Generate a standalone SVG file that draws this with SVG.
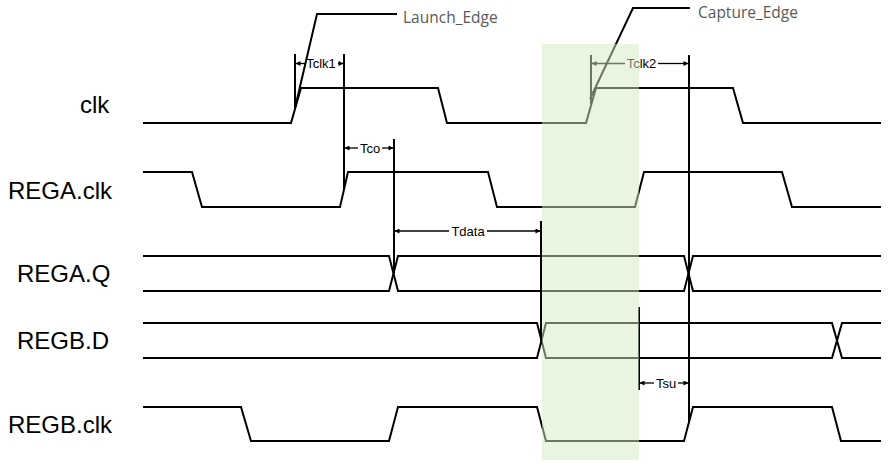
<svg xmlns="http://www.w3.org/2000/svg" width="893" height="463" viewBox="0 0 893 463">
<style>
.bg{fill:#ffffff}
.wave{fill:none;stroke:#000;stroke-width:2;stroke-linejoin:miter}
.mark{fill:none;stroke:#000;stroke-width:2}
.dim{fill:none;stroke:#000;stroke-width:1.3}
.lbl{font-family:"Liberation Sans",Arial,sans-serif;font-size:24px;fill:#000}
.dl{font-family:"Liberation Sans",Arial,sans-serif;font-size:13px;fill:#000;text-anchor:middle}
.call{font-family:"Open Sans","Noto Sans",sans-serif;font-size:15.5px;fill:#595959}
.win{fill:#d6ecc4;fill-opacity:0.5;stroke:none}
</style>
<defs>
<marker id="ah" viewBox="0 0 6 6" refX="6" refY="3" markerWidth="6" markerHeight="5" markerUnits="userSpaceOnUse" orient="auto">
<path d="M0,0 L6,3 L0,6 z" fill="#000"/>
</marker>
</defs>
<rect class="bg" x="0" y="0" width="893" height="463"/>

<g id="clk">
<text class="lbl" x="80" y="113">clk</text>
<path class="wave" d="M143,123 H291 L301,88 H438 L447,123 H586 L596,88 H733 L743,123 H881"/>
</g>
<g id="REGA_clk">
<text class="lbl" x="8" y="199">REGA.clk</text>
<path class="wave" d="M143,172 H192 L202,207 H340 L348,172 H488 L497,207 H635 L644,172 H782 L792,207 H881"/>
</g>
<g id="REGA_Q">
<text class="lbl" x="17" y="282">REGA.Q</text>
<path class="wave" d="M143,256 H389 L398,291 H684 L693,256 H881"/>
<path class="wave" d="M143,291 H389 L398,256 H684 L693,291 H881"/>
</g>
<g id="REGB_D">
<text class="lbl" x="17" y="349">REGB.D</text>
<path class="wave" d="M143,323 H537 L546,358 H832 L842,323 H881"/>
<path class="wave" d="M143,358 H537 L546,323 H832 L842,358 H881"/>
</g>
<g id="REGB_clk">
<text class="lbl" x="8" y="433">REGB.clk</text>
<path class="wave" d="M143,407 H241 L251,441 H389 L398,407 H537 L546,441 H684 L693,407 H832 L841,441 H881"/>
</g>

<g id="connectors">
<path class="mark" d="M295,54 V108"/>
<path class="mark" d="M344,54 V190"/>
<path class="mark" d="M394,139 V273"/>
<path class="mark" d="M541,221 V340"/>
<path class="mark" d="M591,55 V104"/>
<path class="mark" d="M689,55 V423"/>
<path class="mark" d="M639,307 V390"/>

<path class="mark" d="M295,108 L317,14 H397"/>
<path class="mark" d="M590,99 L633,8 H690"/>

<path class="dim" d="M305,63.5 H295.5" marker-end="url(#ah)"/>
<path class="dim" d="M338,63.5 H343.5" marker-end="url(#ah)"/>
<path class="dim" d="M358,148 H344.5" marker-end="url(#ah)"/>
<path class="dim" d="M382,148 H393.5" marker-end="url(#ah)"/>
<path class="dim" d="M449,231 H394.5" marker-end="url(#ah)"/>
<path class="dim" d="M487,231 H540.5" marker-end="url(#ah)"/>
<path class="dim" d="M625,63.5 H591.5" marker-end="url(#ah)"/>
<path class="dim" d="M658,63.5 H688.5" marker-end="url(#ah)"/>
<path class="dim" d="M654,383 H639.5" marker-end="url(#ah)"/>
<path class="dim" d="M678,383 H688.5" marker-end="url(#ah)"/>
</g>

<g id="labels">
<text class="dl" x="321" y="68">Tclk1</text>
<text class="dl" x="370" y="152.5">Tco</text>
<text class="dl" x="468" y="235.5">Tdata</text>
<text class="dl" x="641.5" y="68">Tclk2</text>
<text class="dl" x="666" y="387.5">Tsu</text>
<text class="call" x="403" y="23">Launch_Edge</text>
<text class="call" x="698" y="18">Capture_Edge</text>
</g>

<g id="window">
<rect class="win" x="542" y="44" width="97" height="416"/>
</g>
</svg>
